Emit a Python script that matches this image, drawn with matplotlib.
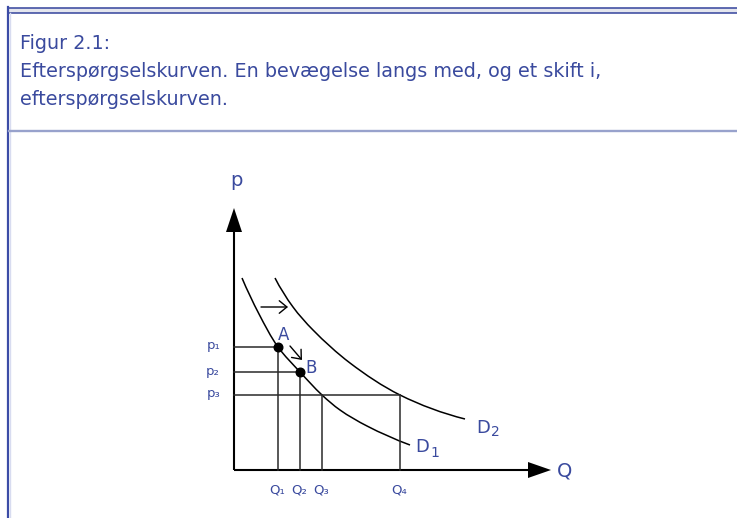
import matplotlib
matplotlib.use("Agg")
import matplotlib.pyplot as plt
from matplotlib.path import Path
from matplotlib.patches import PathPatch, Polygon
import numpy as np

plt.rcParams['font.family'] = ['DejaVu Sans']

# ---- data (quantity Q, price p in diagram units) ----
price_labels = ["p₁", "p₂", "p₃"]
price_levels = [12.3, 9.8, 7.5]
qty_labels = ["Q₁", "Q₂", "Q₃", "Q₄"]
qty_levels = [4.4, 6.6, 8.8, 16.6]

point_names = ["A", "B"]
point_q = [4.4, 6.6]
point_p = [12.3, 9.8]

d1_q = [0.8, 2.5, 4.4, 6.6, 8.8, 10.6, 13.3, 17.6]
d1_p = [19.2, 15.6, 12.3, 9.8, 7.5, 6.0, 4.4, 2.5]
d2_q = [4.1, 5.9, 7.9, 11.6, 16.6, 23.1]
d2_p = [19.2, 16.3, 14.0, 10.7, 7.5, 5.1]

title_lines = ["Figur 2.1:",
               "Efterspørgselskurven. En bevægelse langs med, og et skift i,",
               "efterspørgselskurven."]

TXT = "#3a4a9e"
W, H = 737, 518

fig = plt.figure(figsize=(W / 100, H / 100), dpi=100)

# ---- page frame and caption (pixel space) ----
frame = fig.add_axes([0, 0, 1, 1])
frame.set_xlim(0, W)
frame.set_ylim(H, 0)
frame.axis("off")
frame.fill_between([8, W], 7.5, 12.5, color="#e4e6ee", lw=0)
frame.plot([8, W], [7.5, 7.5], color="#34449c", lw=1.1)
frame.plot([8, W], [12.5, 12.5], color="#34449c", lw=1.1)
frame.plot([8.5, 8.5], [7, H], color="#3c4ca6", lw=1.6)
frame.plot([10, 10], [13, H], color="#d8dcf0", lw=1.0)
frame.plot([9.5, W], [131, 131], color="#98a2cc", lw=1.7)
for i, line in enumerate(title_lines):
    frame.text(20, 49 + 28 * i, line, fontsize=13.8, color=TXT,
               ha="left", va="baseline")

# ---- diagram axes: 1 data unit = 10 px, origin at the axis corner ----
ox, oy = 234, 470
xmax, ymax = 34.0, 27.0
ax = fig.add_axes([ox / W, (H - oy) / H, xmax * 10 / W, ymax * 10 / H])
ax.set_xlim(0, xmax)
ax.set_ylim(0, ymax)
ax.axis("off")
ax.patch.set_alpha(0)


def smooth_path(qs, ps):
    """Smooth cubic Bezier chain through the given points (chord-scaled tangents)."""
    pts = np.column_stack([qs, ps]).astype(float)
    n = len(pts)
    tang = np.zeros_like(pts)
    for i in range(n):
        if i == 0:
            d = pts[1] - pts[0]
        elif i == n - 1:
            d = pts[-1] - pts[-2]
        else:
            a = pts[i] - pts[i - 1]
            b = pts[i + 1] - pts[i]
            d = a / np.linalg.norm(a) + b / np.linalg.norm(b)
        tang[i] = d / np.linalg.norm(d)
    # natural ends: mirror the neighbouring tangent about the end chord
    for i, j in [(0, 1), (n - 1, n - 2)]:
        c = pts[j] - pts[i]
        c = c / np.linalg.norm(c)
        t = tang[j] * (1 if i == 0 else 1)
        r = 2 * np.dot(t, c) * c - t
        tang[i] = r / np.linalg.norm(r)
    verts = [tuple(pts[0])]
    codes = [Path.MOVETO]
    for i in range(n - 1):
        L = np.linalg.norm(pts[i + 1] - pts[i])
        verts += [tuple(pts[i] + tang[i] * L / 3),
                  tuple(pts[i + 1] - tang[i + 1] * L / 3),
                  tuple(pts[i + 1])]
        codes += [Path.CURVE4] * 3
    return Path(verts, codes)


for qs, ps in [(d1_q, d1_p), (d2_q, d2_p)]:
    ax.add_patch(PathPatch(smooth_path(qs, ps), fill=False,
                           edgecolor="black", lw=1.1, clip_on=False))

# axes with filled arrow heads
ax.plot([0, 0], [0, 24.0], color="black", lw=1.5, solid_capstyle="butt",
        clip_on=False)
ax.plot([0, 29.6], [0, 0], color="black", lw=1.5, solid_capstyle="butt",
        clip_on=False)
ax.add_patch(Polygon([[0, 26.2], [-0.8, 23.8], [0.8, 23.8]],
                     closed=True, color="black", lw=0, clip_on=False))
ax.add_patch(Polygon([[31.7, 0], [29.4, 0.8], [29.4, -0.8]],
                     closed=True, color="black", lw=0, clip_on=False))

# guide lines from price levels and quantities
ref = dict(color="#2a2a2a", lw=1.1, clip_on=False)
ax.plot([0, qty_levels[0]], [price_levels[0]] * 2, **ref)
ax.plot([0, qty_levels[1]], [price_levels[1]] * 2, **ref)
ax.plot([0, qty_levels[3]], [price_levels[2]] * 2, **ref)
ax.plot([qty_levels[0]] * 2, [0, price_levels[0]], **ref)
ax.plot([qty_levels[1]] * 2, [0, price_levels[1]], **ref)
ax.plot([qty_levels[2]] * 2, [0, price_levels[2]], **ref)
ax.plot([qty_levels[3]] * 2, [0, price_levels[2]], **ref)

# points on D1
ax.plot(point_q, point_p, "o", color="black", ms=6.2, zorder=5,
        clip_on=False)
ax.text(point_q[0] + 0.6, point_p[0] + 1.2, point_names[0], fontsize=12,
        color=TXT, ha="center", va="center")
ax.text(point_q[1] + 1.1, point_p[1] + 0.4, point_names[1], fontsize=12,
        color=TXT, ha="center", va="center")

# movement along the curve and shift of the curve
arr = dict(arrowstyle="->,head_length=0.55,head_width=0.45", color="black",
           lw=1.0, shrinkA=0, shrinkB=0, mutation_scale=10)
ax.annotate("", xy=(5.4, 16.3), xytext=(2.7, 16.3), arrowprops=arr)
ax.annotate("", xy=(6.8, 11.0), xytext=(5.6, 12.4), arrowprops=arr)

# axis and curve labels
ax.text(0.2, 29.0, "p", fontsize=14, color=TXT, ha="center", va="center")
ax.text(33.1, -0.1, "Q", fontsize=14, color=TXT, ha="center", va="center")
ax.text(18.1, 2.3, "D", fontsize=13, color=TXT, ha="left", va="center")
ax.text(19.6, 1.7, "1", fontsize=10, color=TXT, ha="left", va="center")
ax.text(24.2, 4.2, "D", fontsize=13, color=TXT, ha="left", va="center")
ax.text(25.7, 3.8, "2", fontsize=10, color=TXT, ha="left", va="center")

for lab, lv in zip(price_labels, price_levels):
    ax.text(-1.4, lv + 0.1, lab, fontsize=9.5, color=TXT, ha="right",
            va="center")
for lab, q in zip(qty_labels, qty_levels):
    ax.text(q - 0.1, -2.0, lab, fontsize=9.5, color=TXT, ha="center",
            va="center")

fig.savefig("out.png", dpi=100)
